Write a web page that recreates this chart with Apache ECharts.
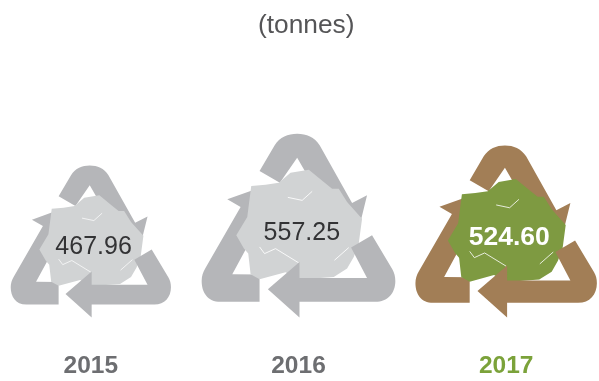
<!DOCTYPE html>
<html>
<head>
<meta charset="utf-8">
<style>html,body{margin:0;padding:0;background:#fff}#chart{width:599px;height:381px}</style>
<script src="https://cdn.jsdelivr.net/npm/echarts@6/dist/echarts.min.js"></script>
</head>
<body>
<div id="chart"></div>
<script>
const years = ['2015', '2016', '2017'];
const tonnes = [467.96, 557.25, 524.60];
const unitLabel = '(tonnes)';
const highlightYear = '2017';

// Icon outlines, in a 582 x 552 drawing box scaled to the value at render time
const BOX = { cx: 324, bottom: 592, height: 552 };
const ARROWS_BEHIND =
  'M207 152 L252 75 C268 50 292 40 320 40 C348 40 372 50 388 75 L485 248 L530 225 L512 298 L420 285 ' +
  'L320 112 L268 187 Z ' +
  'M207 463 L207 545 L90 545 C50 545 33 515 33 482 C33 468 37 456 44 444 L150 260 L110 237 L182 211 L240 340 L175 370 L125 462 Z';
const ARROW_FRONT =
  'M545 345 L606 447 C612 458 615 468 615 482 C615 518 592 545 555 545 L327 545 L327 592 L232 507 L327 425 L327 473 L530 473 L482 382 Z';
const PAPER =
  'M182 197 L225 193 L265 187 L300 157 L355 148 L400 185 L425 205 L445 205 L470 245 L515 295 L505 370 L490 410 L470 445 L430 470 ' +
  'L327 478 L285 456 L207 477 L180 462 L173 400 L160 385 L137 345 L170 290 Z';
const CREASES =
  'M292 231 L335 240 L365 213 M207 380 L222 400 L255 385 L325 428 M432 420 L475 382';

const PALETTE = {
  normal: { arrow: '#b5b6b9', paper: '#d1d3d4', text: '#333335', weight: 'normal', size: 25 },
  highlight: { arrow: '#a27e56', paper: '#7e9a41', text: '#ffffff', weight: 'bold', size: 26.5 }
};

function styleOf(year) {
  return year === highlightYear ? PALETTE.highlight : PALETTE.normal;
}

function renderIcon(params, api) {
  const value = api.value(1);
  const year = years[api.value(0)];
  const base = api.coord([api.value(0), 40]);
  const top = api.coord([api.value(0), value]);
  const h = base[1] - top[1];
  const s = h / BOX.height;
  const look = styleOf(year);
  const shape = (d, style) => ({ type: 'path', shape: { pathData: d }, style });
  return {
    type: 'group',
    children: [
      {
        type: 'group',
        x: base[0] - BOX.cx * s,
        y: base[1] - BOX.bottom * s,
        scaleX: s,
        scaleY: s,
        children: [
          shape(ARROWS_BEHIND, { fill: look.arrow }),
          shape(PAPER, { fill: look.paper }),
          shape(CREASES, { fill: 'none', stroke: '#ffffff', lineWidth: 2.6 }),
          shape(ARROW_FRONT, { fill: look.arrow })
        ]
      },
      {
        type: 'text',
        x: base[0] + 10 * s,
        y: base[1] - h * 0.47 + 1.5,
        style: {
          text: value.toFixed(2),
          fill: look.text,
          fontFamily: '"Liberation Sans", Arial, sans-serif',
          fontWeight: look.weight,
          fontSize: look.size,
          align: 'center',
          verticalAlign: 'middle'
        }
      }
    ]
  };
}

const chart = echarts.init(document.getElementById('chart'), null, { renderer: 'canvas' });
chart.setOption({
  animation: false,
  backgroundColor: '#ffffff',
  title: {
    text: unitLabel,
    left: 253,
    top: 8,
    textStyle: {
      fontFamily: '"Liberation Sans", Arial, sans-serif',
      fontWeight: 'normal',
      fontSize: 26.3,
      color: '#555557'
    }
  },
  grid: { left: -13, width: 623, top: 40.5, bottom: 63.5, outerBoundsMode: 'none' },
  xAxis: {
    type: 'category',
    data: years.map(y => ({
      value: y,
      textStyle: { color: y === highlightYear ? '#7ba23a' : '#6d6e71' }
    })),
    axisLine: { show: false },
    axisTick: { show: false },
    axisLabel: {
      margin: 36,
      fontFamily: '"Liberation Sans", Arial, sans-serif',
      fontWeight: 'bold',
      fontSize: 24.5
    }
  },
  yAxis: { type: 'value', min: 40, max: 820, show: false },
  series: [{
    type: 'custom',
    renderItem: renderIcon,
    encode: { x: 0, y: 1 },
    data: tonnes.map((v, i) => [i, v]),
    silent: true
  }]
});
</script>
</body>
</html>
